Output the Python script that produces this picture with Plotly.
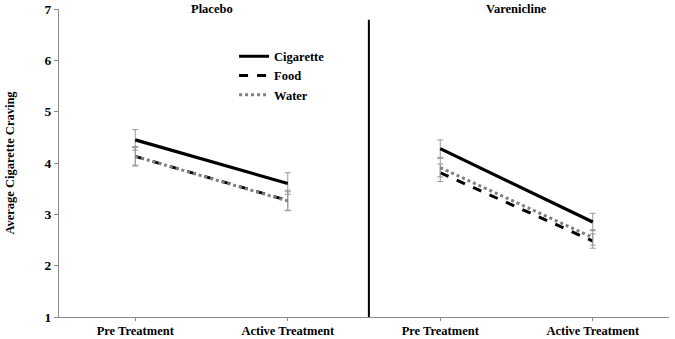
import plotly.graph_objects as go

conditions = ["Pre Treatment", "Active Treatment"]
series_names = ["Cigarette", "Food", "Water"]

placebo_cigarette = [4.45, 3.60]
placebo_food = [4.13, 3.27]
placebo_water = [4.13, 3.26]
placebo_cigarette_err = [0.20, 0.21]
placebo_food_err = [0.19, 0.20]
placebo_water_err = [0.17, 0.18]

varenicline_cigarette = [4.28, 2.85]
varenicline_food = [3.81, 2.48]
varenicline_water = [3.91, 2.55]
varenicline_cigarette_err = [0.17, 0.17]
varenicline_food_err = [0.17, 0.14]
varenicline_water_err = [0.18, 0.15]

panel_titles = ["Placebo", "Varenicline"]
y_ticks = [1, 2, 3, 4, 5, 6, 7]

FONT = "Liberation Serif"
styles = {
    "Cigarette": dict(color="black", width=3.2, dash="solid"),
    "Food": dict(color="black", width=3, dash="dash"),
    "Water": dict(color="#808080", width=3, dash="dot"),
}

fig = go.Figure()
panels = [
    ("x", [placebo_cigarette, placebo_food, placebo_water],
     [placebo_cigarette_err, placebo_food_err, placebo_water_err], True),
    ("x2", [varenicline_cigarette, varenicline_food, varenicline_water],
     [varenicline_cigarette_err, varenicline_food_err, varenicline_water_err], False),
]
for xa, vals, errs, show in panels:
    for name, v, e in zip(series_names, vals, errs):
        fig.add_trace(go.Scatter(
            x=conditions, y=v, name=name, mode="lines",
            line=styles[name], xaxis=xa, yaxis="y",
            showlegend=show,
            error_y=dict(type="data", array=e, visible=True,
                         color="#999999", thickness=1, width=3),
        ))

axis_common = dict(
    type="category", range=[-0.5, 1.5], showline=True, linecolor="#8a8a8a",
    linewidth=1.2, ticks="outside", ticklen=3, tickcolor="#8a8a8a",
    showgrid=False, zeroline=False, automargin=False, ticklabelstandoff=-1,
    tickfont=dict(family=FONT, size=12.5, color="black", weight="bold"),
)
fig.update_layout(
    width=675, height=339,
    margin=dict(l=59, r=6, t=9, b=22, autoexpand=False),
    plot_bgcolor="white", paper_bgcolor="white",
    xaxis=dict(domain=[0, 0.5], anchor="y", **axis_common),
    xaxis2=dict(domain=[0.5, 1], anchor="y", **axis_common),
    yaxis=dict(
        range=[1, 7], tickvals=y_ticks, showline=True, linecolor="#8a8a8a",
        linewidth=1.2, ticks="outside", ticklen=4, tickcolor="#8a8a8a",
        showgrid=False, zeroline=False, automargin=False,
        tickfont=dict(family=FONT, size=13.5, color="black", weight="bold"),
        title=dict(text="Average Cigarette Craving", standoff=27,
                   font=dict(family=FONT, size=12.5, color="black", weight="bold")),
    ),
    legend=dict(
        x=0.287, y=0.894, xanchor="left", yanchor="top",
        bgcolor="rgba(0,0,0,0)", tracegroupgap=0,
        font=dict(family=FONT, size=12.5, color="black", weight="bold"),
    ),
    showlegend=True,
)
fig.add_shape(type="line", xref="paper", yref="y", x0=0.508, x1=0.508,
              y0=1, y1=6.79, line=dict(color="black", width=2))
for i, t in enumerate(panel_titles):
    fig.add_annotation(
        text=t, xref="x" if i == 0 else "x2", yref="paper", x=0.5, y=1.0,
        yanchor="middle", showarrow=False,
        font=dict(family=FONT, size=12.5, color="black", weight="bold"),
    )

fig.write_html("out.html", config={"displayModeBar": False},
               post_script="document.body.style.margin='0px';")
